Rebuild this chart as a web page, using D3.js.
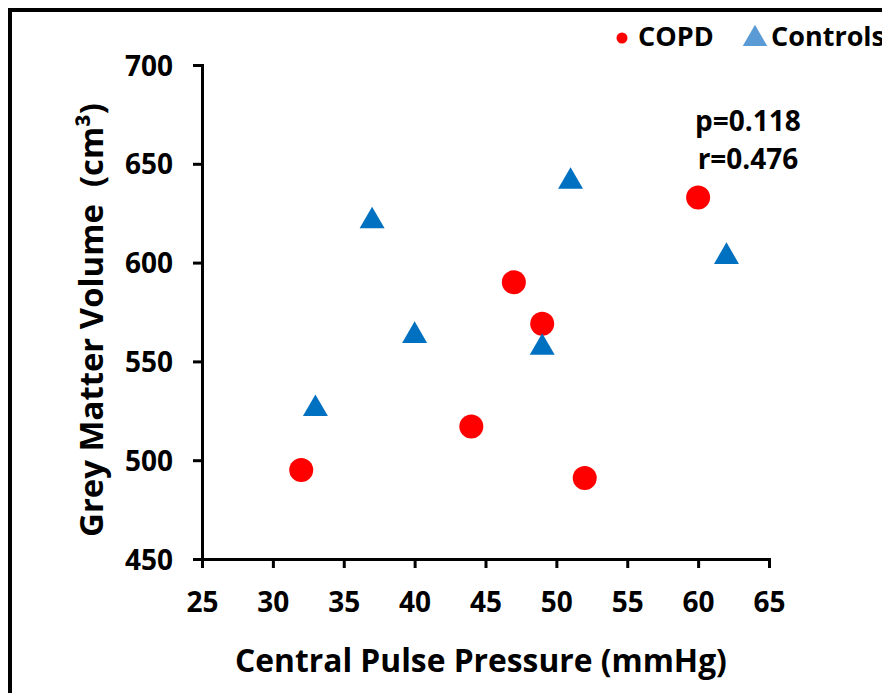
<!DOCTYPE html>
<html>
<head>
<meta charset="utf-8">
<script src="https://cdn.jsdelivr.net/npm/d3@7"></script>
<style>
  body { margin: 0; background: white; }
  text { font-family: "Open Sans", Lato, sans-serif; font-weight: bold; fill: #000; }
</style>
</head>
<body>
<div id="canvas"></div>
<script>
"use strict"

let drawingWidth = 882;
let drawingHeight = 693;

// data
let copdPressure = [32, 44, 47, 49, 52, 60];
let copdVolume = [495, 517, 590, 569, 491, 633];
let controlPressure = [33, 37, 40, 49, 51, 62];
let controlVolume = [526, 621, 563, 557, 641, 603];
let xTicks = [25, 30, 35, 40, 45, 50, 55, 60, 65];
let yTicks = [450, 500, 550, 600, 650, 700];
let seriesNames = ["COPD", "Controls"];
let statLines = ["p=0.118", "r=0.476"];

let drawing = d3.select("#canvas")
    .append("svg")
    .attr("width", drawingWidth)
    .attr("height", drawingHeight);

/* outer frame, runs off the right and bottom edges */
drawing.append("rect")
    .attr("x", 10)
    .attr("y", 10)
    .attr("width", 900)
    .attr("height", 720)
    .attr("fill", "white")
    .attr("stroke", "black")
    .attr("stroke-width", 4);

let xScale = d3.scaleLinear().domain([25, 65]).range([202, 769]);
let yScale = d3.scaleLinear().domain([450, 700]).range([559, 65]);

let xAxis = drawing.append("g")
    .attr("transform", "translate(0,559)")
    .call(d3.axisBottom(xScale).tickValues(xTicks).tickSize(9).tickSizeOuter(9));

let yAxis = drawing.append("g")
    .attr("transform", "translate(202,0)")
    .call(d3.axisLeft(yScale).tickValues(yTicks).tickSize(9).tickSizeOuter(9));

drawing.selectAll(".domain, .tick line")
    .attr("stroke", "black")
    .attr("stroke-width", 3);

drawing.selectAll(".tick text")
    .style("font-family", "'Open Sans', sans-serif")
    .style("font-weight", "bold")
    .style("font-size", "28px")
    .attr("fill", "black");

xAxis.selectAll(".tick text")
    .attr("y", 53)
    .attr("dy", null);

yAxis.selectAll(".tick text")
    .attr("x", -29)
    .attr("dy", "0.36em");

/* shrink or grow a title so it spans the same width as in the picture */
function fitWidth(sel, target) {
    let len = sel.node().getComputedTextLength();
    sel.style("font-size", (30 * target / len) + "px");
}

/* axis titles */
let xTitle = drawing.append("text")
    .attr("x", 481)
    .attr("y", 672)
    .attr("text-anchor", "middle")
    .style("font-size", "30px")
    .text("Central Pulse Pressure (mmHg)");
fitWidth(xTitle, 492);

let yTitle = drawing.append("text")
    .attr("transform", "translate(103,320) rotate(-90)")
    .attr("text-anchor", "middle")
    .style("font-size", "30px")
    .style("white-space", "pre")
    .attr("xml:space", "preserve")
    .text("Grey Matter Volume  (cm\u00B3)");
fitWidth(yTitle, 434);

/* COPD points */
drawing.selectAll(".copd")
    .data(copdPressure)
    .enter()
    .append("circle")
    .attr("class", "copd")
    .attr("cx", d => xScale(d))
    .attr("cy", (d, i) => yScale(copdVolume[i]))
    .attr("r", 12)
    .attr("fill", "#ff0000");

/* control points */
let triangle = d3.symbol().type(d3.symbolTriangle).size(270);
drawing.selectAll(".control")
    .data(controlPressure)
    .enter()
    .append("path")
    .attr("class", "control")
    .attr("d", triangle)
    .attr("transform", (d, i) => "translate(" + xScale(d) + "," + yScale(controlVolume[i]) + ")")
    .attr("fill", "#0070c0");

/* stats */
drawing.selectAll(".stat")
    .data(statLines)
    .enter()
    .append("text")
    .attr("class", "stat")
    .attr("x", 748)
    .attr("y", (d, i) => 131 + i * 38)
    .attr("text-anchor", "middle")
    .style("font-size", "28px")
    .text(d => d);

/* legend */
drawing.append("circle")
    .attr("cx", 622)
    .attr("cy", 38)
    .attr("r", 5.5)
    .attr("fill", "#ff0000");
drawing.append("text")
    .attr("x", 638)
    .attr("y", 46)
    .style("font-size", "27px")
    .text(seriesNames[0]);
drawing.append("path")
    .attr("d", d3.symbol().type(d3.symbolTriangle).size(260))
    .attr("transform", "translate(755,39)")
    .attr("fill", "#5b9bd5");
drawing.append("text")
    .attr("x", 771)
    .attr("y", 46)
    .style("font-size", "27px")
    .text(seriesNames[1]);
</script>
</body>
</html>
